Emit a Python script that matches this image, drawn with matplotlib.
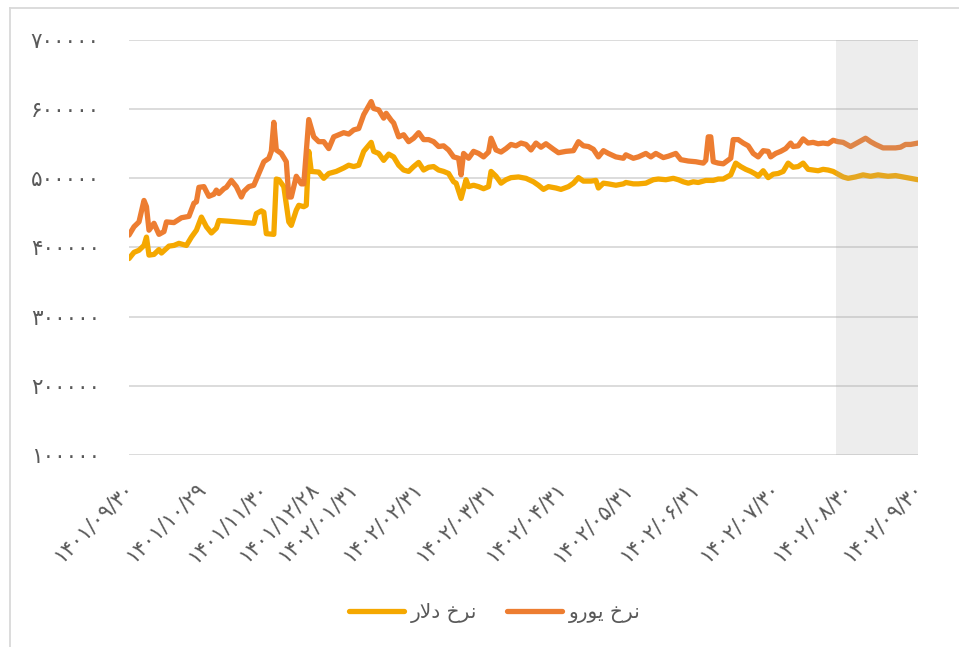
import matplotlib.pyplot as plt
from matplotlib.lines import Line2D
from matplotlib.transforms import ScaledTranslation

# trading-day index of each reading and the rates (thousand rial)
dollar_day = [0, 2, 4, 6, 7, 8, 10, 12, 13, 16, 18, 20, 23, 25, 27, 29, 31, 33, 35, 36,
              40, 50, 51, 53, 54, 55, 58, 59, 60, 62, 64, 65, 67, 68, 70, 71, 72, 73, 76, 78,
              80, 83, 86, 88, 90, 92, 94, 97, 98, 100, 102, 104, 106, 108, 110, 112, 114, 116, 118, 120,
              122, 124, 126, 128, 130, 131, 133, 135, 136, 138, 140, 142, 144, 145, 147, 149, 151, 153, 156, 159,
              162, 164, 166, 168, 171, 173, 176, 178, 180, 182, 185, 187, 188, 190, 192, 195, 198, 199, 202, 204,
              207, 210, 212, 215, 218, 220, 222, 224, 226, 228, 231, 234, 236, 238, 241, 243, 245, 247, 249, 251,
              252, 254, 256, 258, 260, 262, 264, 266, 268, 270, 272, 274, 276, 278, 280, 282, 284, 286, 288, 291,
              294, 297, 300, 304, 307, 310, 313, 316]
dollar = [384, 393, 396, 403, 415, 389, 390, 397, 392, 402, 403, 406, 403, 415, 425, 444, 430, 421, 428, 439,
          438, 435, 449, 453, 451, 420, 419, 499, 498, 488, 437, 432, 454, 461, 459, 461, 539, 510, 509, 500,
          507, 510, 515, 519, 517, 519, 539, 552, 539, 536, 526, 535, 531, 519, 512, 510, 517, 523, 512, 516,
          517, 512, 510, 507, 495, 493, 471, 498, 488, 490, 488, 485, 488, 510, 503, 493, 498, 501, 502, 500,
          495, 490, 484, 488, 486, 484, 488, 493, 501, 496, 496, 497, 486, 493, 492, 490, 492, 494, 492, 492,
          493, 498, 499, 498, 500, 498, 495, 493, 495, 494, 497, 497, 499, 499, 505, 522, 517, 513, 510, 506,
          503, 511, 501, 506, 507, 510, 522, 516, 517, 522, 513, 512, 511, 513, 512, 510, 506, 502, 500, 502,
          505, 503, 505, 503, 504, 502, 500, 498]

euro_day = [0, 2, 4, 6, 7, 8, 10, 12, 14, 15, 18, 21, 24, 26, 27, 28, 30, 32, 34, 35,
            36, 38, 39, 41, 43, 45, 46, 48, 50, 52, 54, 56, 57, 58, 59, 61, 63, 64, 65, 67,
            69, 70, 72, 74, 76, 78, 80, 82, 84, 86, 88, 90, 92, 94, 97, 98, 100, 102, 103, 105,
            106, 108, 110, 112, 114, 116, 118, 120, 122, 124, 126, 128, 130, 132, 133, 134, 136, 138, 140, 142,
            144, 145, 147, 149, 151, 153, 155, 157, 159, 161, 163, 165, 167, 170, 172, 175, 178, 180, 182, 184,
            186, 188, 190, 192, 195, 198, 199, 202, 204, 207, 209, 211, 214, 216, 219, 221, 224, 227, 230, 231,
            232, 233, 234, 236, 238, 241, 242, 244, 246, 248, 250, 252, 254, 256, 257, 259, 261, 263, 265, 266,
            268, 270, 272, 274, 276, 278, 280, 282, 284, 286, 289, 292, 295, 297, 299, 302, 304, 307, 309, 311,
            313, 316]
euro = [418, 430, 437, 468, 459, 425, 435, 419, 423, 437, 436, 443, 445, 464, 466, 487, 488, 474, 477, 483,
        478, 485, 487, 497, 488, 473, 481, 488, 490, 507, 524, 529, 539, 581, 541, 536, 524, 473, 473, 503,
        492, 492, 585, 560, 553, 553, 543, 560, 563, 566, 564, 570, 572, 592, 611, 601, 599, 587, 594, 584,
        580, 560, 563, 553, 558, 566, 556, 556, 553, 546, 547, 541, 531, 529, 505, 536, 529, 539, 536, 531,
        538, 558, 541, 538, 543, 549, 547, 551, 549, 541, 551, 545, 550, 542, 537, 539, 540, 553, 547, 546,
        542, 531, 540, 536, 531, 529, 534, 529, 531, 536, 531, 536, 530, 532, 536, 527, 525, 524, 522, 526,
        560, 560, 524, 522, 521, 529, 556, 556, 551, 547, 536, 531, 540, 539, 531, 536, 539, 543, 551, 546,
        547, 557, 551, 552, 550, 551, 550, 555, 553, 552, 546, 552, 558, 553, 549, 544, 544, 544, 545, 549,
        549, 551]

tick_day = [0, 29, 54, 74, 90, 116, 145, 173, 200, 227, 259, 288, 316]
tick_lab = ['۱۴۰۱/۰۹/۳۰', '۱۴۰۱/۱۰/۲۹', '۱۴۰۱/۱۱/۳۰', '۱۴۰۱/۱۲/۲۸', '۱۴۰۲/۰۱/۳۱',
            '۱۴۰۲/۰۲/۳۱', '۱۴۰۲/۰۳/۳۱', '۱۴۰۲/۰۴/۳۱', '۱۴۰۲/۰۵/۳۱', '۱۴۰۲/۰۶/۳۱',
            '۱۴۰۲/۰۷/۳۰', '۱۴۰۲/۰۸/۳۰', '۱۴۰۲/۰۹/۳۰']
y_ticks = [100000, 200000, 300000, 400000, 500000, 600000, 700000]
y_labs = ['۱۰۰۰۰۰', '۲۰۰۰۰۰', '۳۰۰۰۰۰', '۴۰۰۰۰۰', '۵۰۰۰۰۰', '۶۰۰۰۰۰', '۷۰۰۰۰۰']
shade_from, shade_to = 283, 316

# legend names in visual order with presentation forms (matplotlib does no arabic shaping)
name_dollar = 'ﺭﻻﺩ ﺥﺮﻧ'   # نرخ دلار
name_euro = 'ﻭﺭﻮﯾ ﺥﺮﻧ'    # نرخ یورو

plt.rcParams['font.family'] = ['DejaVu Sans']
txt = '#595959'

fig = plt.figure(figsize=(9.59, 6.47), dpi=100)
ax = fig.add_axes([129 / 959, 1 - 455 / 647, (918 - 129) / 959, (455 - 40) / 647])

ax.plot(dollar_day, [v * 1000 for v in dollar], color='#F5A800', lw=3.8,
        solid_joinstyle='round', solid_capstyle='round', label=name_dollar, zorder=3)
ax.plot(euro_day, [v * 1000 for v in euro], color='#ED7D31', lw=3.8,
        solid_joinstyle='round', solid_capstyle='round', label=name_euro, zorder=3)
ax.axvspan(shade_from, shade_to, color='#A6A6A6', alpha=0.2, lw=0, zorder=4)

ax.set_xlim(0, 316)
ax.set_ylim(100000, 700000)
ax.set_yticks(y_ticks)
ax.set_yticklabels(y_labs, fontsize=15.5, color=txt)
ax.set_xticks(tick_day)
ax.set_xticklabels(tick_lab, rotation=45, ha='right', va='top', rotation_mode='anchor',
                   fontsize=15, color=txt)
ax.tick_params(axis='y', length=0, pad=21)
ax.tick_params(axis='x', length=0, pad=17)
shift = ScaledTranslation(-6 / 100, 0, fig.dpi_scale_trans)
for lab in ax.get_xticklabels():
    lab.set_transform(lab.get_transform() + shift)
ax.grid(axis='y', color='#D9D9D9', lw=1.3)
ax.set_axisbelow(True)
for s in ax.spines.values():
    s.set_visible(False)

fig.legend(loc='center', bbox_to_anchor=(0.516, 0.053), ncol=2, frameon=False,
           fontsize=14.5, labelcolor=txt, handlelength=2.7, handletextpad=0.35,
           columnspacing=1.5)

# chart area frame (left and top edges visible)
fig.add_artist(Line2D([10 / 959, 10 / 959], [0, 1 - 8 / 647], color='#D9D9D9', lw=1.3))
fig.add_artist(Line2D([10 / 959, 1], [1 - 8 / 647, 1 - 8 / 647], color='#D9D9D9', lw=1.3))

fig.savefig('out.png', dpi=100)
